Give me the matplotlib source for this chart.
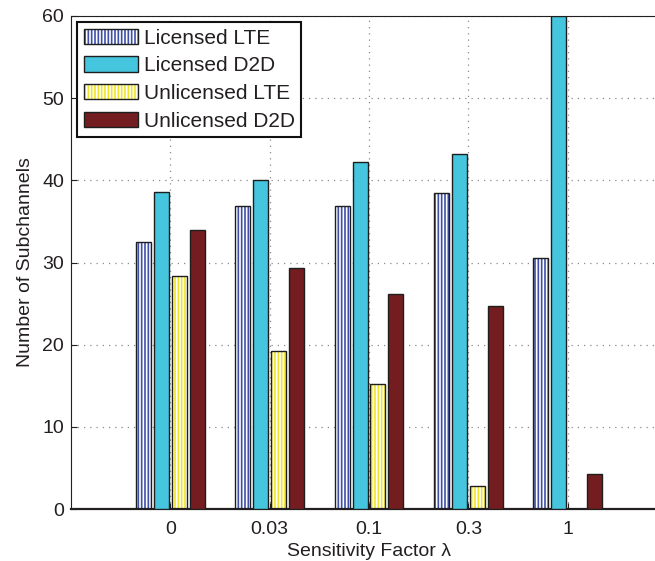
import matplotlib
matplotlib.use("Agg")
import matplotlib.pyplot as plt
from matplotlib.patches import Patch
from matplotlib.legend_handler import HandlerTuple
import numpy as np

# values
lambdas = ["0", "0.03", "0.1", "0.3", "1"]
licensed_lte = [32.5, 36.9, 36.9, 38.4, 30.5]
licensed_d2d = [38.6, 40.1, 42.2, 43.2, 60.0]
unlicensed_lte = [28.3, 19.2, 15.2, 2.8, 0.0]
unlicensed_d2d = [33.9, 29.3, 26.2, 24.7, 4.3]
labels = ["Licensed LTE", "Licensed D2D", "Unlicensed LTE", "Unlicensed D2D"]

plt.rcParams["font.family"] = ["Liberation Sans", "DejaVu Sans"]
plt.rcParams["hatch.linewidth"] = 1.2

blue = "#3d4fa6"
cyan = "#45c5de"
yellow = "#f0e428"
darkred = "#731d20"
outline = "#1e1e1e"

fig = plt.figure(figsize=(6.55, 5.61), dpi=100)
ax = fig.add_axes([71 / 655, 52 / 561, 596 / 655, 493 / 561])

x = np.arange(1, len(lambdas) + 1)
w = 0.15
offs = [-0.27, -0.09, 0.09, 0.27]
series = [licensed_lte, licensed_d2d, unlicensed_lte, unlicensed_d2d]
styles = [
    dict(color="white", hatch="|||||", hc=blue),
    dict(color=cyan, hatch=None, hc=None),
    dict(color="white", hatch="|||||", hc=yellow),
    dict(color=darkred, hatch=None, hc=None),
]

handles = []
for vals, off, st in zip(series, offs, styles):
    if st["hatch"]:
        ax.bar(x + off, vals, w, color="white", edgecolor=st["hc"],
               hatch=st["hatch"], linewidth=0, zorder=2)
        ax.bar(x + off, vals, w, fill=False, edgecolor=outline,
               linewidth=1.0, zorder=3)
        h = (Patch(facecolor="white", edgecolor=st["hc"], hatch=st["hatch"], linewidth=0),
             Patch(fill=False, edgecolor=outline, linewidth=1.0))
    else:
        ax.bar(x + off, vals, w, color=st["color"], edgecolor=outline,
               linewidth=1.0, zorder=3)
        h = Patch(facecolor=st["color"], edgecolor=outline, linewidth=1.0)
    handles.append(h)

ax.set_xlim(0, 6)
ax.set_ylim(0, 60)
ax.set_xticks(x)
ax.set_xticklabels(lambdas)
ax.set_yticks(np.arange(0, 61, 10))
ax.tick_params(direction="in", length=4, labelsize=14, colors="#231f20")
ax.tick_params(axis="x", pad=9)
ax.tick_params(axis="y", pad=5)
ax.set_axisbelow(True)
ax.grid(True, linestyle=(0, (1, 4)), color="#8a8a8a", linewidth=0.9)
for s in ax.spines.values():
    s.set_color("#231f20")
ax.spines["bottom"].set_linewidth(1.6)

ax.set_xlabel("Sensitivity Factor \u03bb", fontsize=14, color="#231f20", labelpad=3)
ax.set_ylabel("Number of Subchannels", fontsize=14, color="#231f20", labelpad=6)

leg = ax.legend(handles, labels, loc="upper left", fontsize=15,
                handler_map={tuple: HandlerTuple(ndivide=1)},
                fancybox=False, framealpha=1, edgecolor="#111111",
                borderaxespad=0.3, handlelength=2.6, handleheight=0.75,
                handletextpad=0.3, labelspacing=0.42, borderpad=0.3)
leg.get_frame().set_linewidth(1.5)
for t in leg.get_texts():
    t.set_color("#231f20")

fig.savefig("out.png", dpi=100)
